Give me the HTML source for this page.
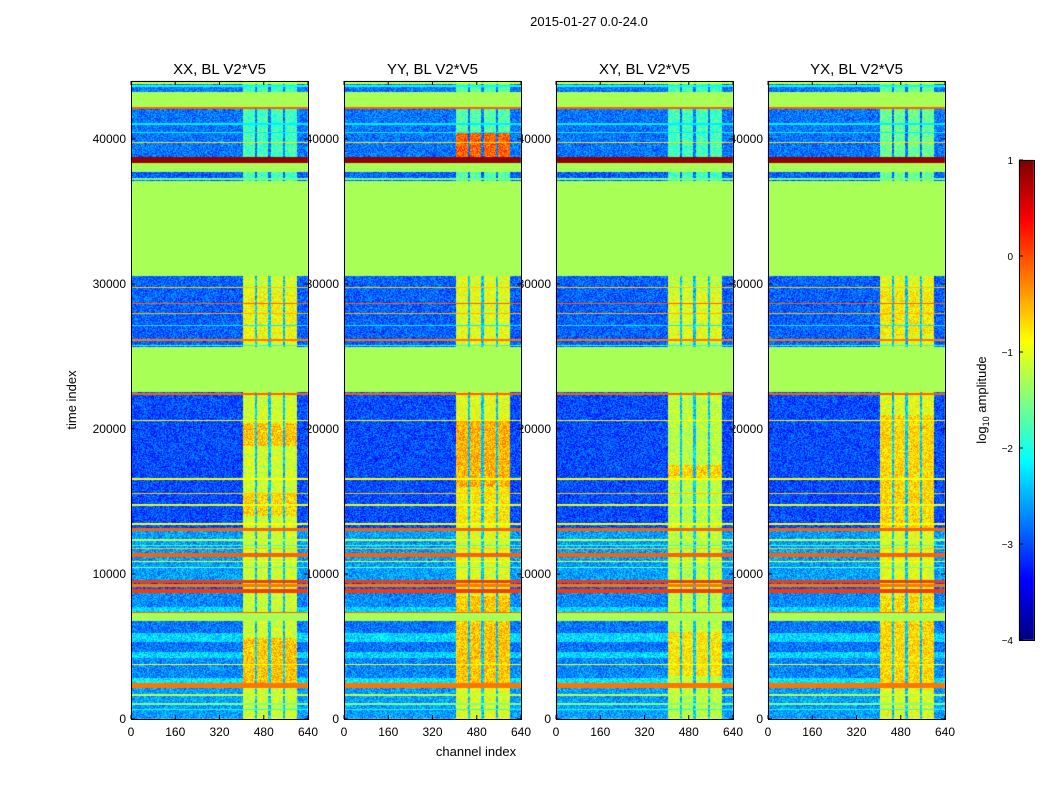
<!DOCTYPE html>
<html><head><meta charset="utf-8"><style>
body{margin:0;background:#fff;width:1050px;height:800px;overflow:hidden;position:relative;font-family:"Liberation Sans",sans-serif}
svg,canvas{position:absolute;left:0;top:0}
</style></head><body>
<svg id="under" width="1050" height="800"></svg>
<canvas id="cv" width="1050" height="800"></canvas>
<svg id="over" width="1050" height="800"></svg>
<script>
const panelTitles=["XX, BL V2*V5","YY, BL V2*V5","XY, BL V2*V5","YX, BL V2*V5"];
const panelLeft=[131,344,556,768];
const yTicks=[0,10000,20000,30000,40000];
const xTicks=[0,160,320,480,640];
const cbTicks=[1,0,-1,-2,-3,-4];
// uniform rows across all channels: [t0,t1,value]
const flagRows=[[42200,43240,-1.3],[37720,38340,-1.3],[30550,37100,-1.3],[22550,25650,-1.3],[6750,7300,-1.3],
[38340,38760,0.9],[42100,42200,-0.1],[22350,22500,-0.1],[12950,13150,-0.1],[11200,11450,-0.1],[8700,9000,0.1],[9100,9300,-0.2],[9400,9600,0.1],
[7300,7400,-0.1],[2150,2480,-0.2],[28600,28700,-0.1],[27900,28000,-0.5],[26100,26200,-0.2],[29700,29800,-0.6],[39700,39800,-0.7],
[20550,20650,-0.9],[16500,16600,-0.9],[15500,15600,-0.6],[14700,14800,-1.0],[13400,13500,-0.9],[3700,3800,-0.9],[1600,1700,-1.2],
[41000,41100,-2.2],[40400,40500,-2.2],[37200,37300,-1.6],[25700,25800,-2.0],[27100,27200,-2.2],[11900,12000,-1.8],[10400,10500,-1.6],
[12300,12400,-1.2],[11700,11800,-0.6],[10800,10900,-0.9],[1000,1100,-1.5],[600,700,-2.0],[43600,43700,-2.1],[43800,43900,-1.0]];
// base background rows: [t0,t1,value]
const baseRows=[[0,2150,-2.6],[2480,2800,-2.2],[2800,4200,-2.7],[4200,4600,-2.3],[4600,5300,-2.8],[5300,5900,-2.3],[5900,6750,-2.8],
[7400,7700,-2.3],[7700,8700,-2.7],[9600,11200,-2.6],[11450,12950,-2.6],[13150,22350,-3.0],[25650,30550,-2.9],[37100,37720,-2.9],[38760,42100,-2.8],[43240,44000,-2.8]];
// RFI channel columns: [ch0,ch1]
const rfiCols=[[405,450],[455,495],[505,550],[556,600]];
const rfiLevel=[-1.1,-1.0,-1.2,-1.0];
const rfiUpperLevel=[-1.8,-1.7,-1.8,-1.6];
// hot time ranges where columns turn orange: per panel [t0,t1,value]
const hotRanges=[[[18800,20400,-0.6],[2500,5600,-0.6],[14000,15500,-0.7],[26000,29500,-0.9]],
[[16000,20600,-0.5],[38760,40400,-0.1],[2500,8500,-0.6],[13500,16000,-0.8]],
[[16500,17500,-0.7],[3000,6000,-0.8],[26000,29500,-1.0]],
[[13000,21000,-0.7],[2500,8500,-0.7],[26500,29500,-0.8]]];
const T_MAX=44000, Y0=719, PH=638, PW=177;
function yOf(t){return Y0 - t/T_MAX*PH;}
function xOf(p,ch){return panelLeft[p]+ch/640*PW;}
function jet(v){let x=Math.max(0,Math.min(1,(v+4)/5));
 const r=Math.max(0,Math.min(1,1.5-Math.abs(4*x-3))),g=Math.max(0,Math.min(1,1.5-Math.abs(4*x-2))),b=Math.max(0,Math.min(1,1.5-Math.abs(4*x-1)));
 return [r*255|0,g*255|0,b*255|0];}
function hash(a,b){let h=(a*374761393+b*668265263)|0;h=(h^(h>>>13))*1274126177|0;return ((h^(h>>>16))>>>0)/4294967295;}
function cellVal(p,t,ch){
 for(const r of flagRows) if(t>=r[0]&&t<r[1]) return {v:r[2],flat:true};
 let base=-2.9;for(const r of baseRows) if(t>=r[0]&&t<r[1]) base=r[2];
 let v=base;
 for(const c of rfiCols) if(ch>=c[0]&&ch<c[1]){v=t>37000?rfiUpperLevel[p]:rfiLevel[p];for(const h of hotRanges[p]) if(t>=h[0]&&t<h[1]) v=h[2];}
 if(ch>=450&&ch<455||ch>=495&&ch<505||ch>=550&&ch<556) if(t<30550&&t>0) v=-2.4;
 return {v,flat:false};
}
const ctx=document.getElementById('cv').getContext('2d');
const img=ctx.createImageData(1050,800);
for(let p=0;p<4;p++){
 for(let py=81;py<719;py++){const t=(Y0-py-0.5)/PH*T_MAX;
  for(let px=panelLeft[p];px<panelLeft[p]+PW;px++){const ch=(px-panelLeft[p]+0.5)/PW*640;
   const c=cellVal(p,t,ch);let v=c.v;if(!c.flat)v+=(hash(px,py)-0.5)*0.8;
   const col=jet(v),i=(py*1050+px)*4;img.data[i]=col[0];img.data[i+1]=col[1];img.data[i+2]=col[2];img.data[i+3]=255;}}
}
for(let py=160;py<640;py++){const v=1-(py-160)/480*5;const col=jet(v);
 for(let px=1019;px<1034;px++){const i=(py*1050+px)*4;img.data[i]=col[0];img.data[i+1]=col[1];img.data[i+2]=col[2];img.data[i+3]=255;}}
ctx.putImageData(img,0,0);
const NS="http://www.w3.org/2000/svg";
function mk(par,tag,attrs,txt){const e=document.createElementNS(NS,tag);for(const k in attrs)e.setAttribute(k,attrs[k]);if(txt!==undefined)e.textContent=txt;par.appendChild(e);return e;}
const U=document.getElementById('under'),O=document.getElementById('over');
for(let p=0;p<4;p++){
 const L=panelLeft[p];
 for(const t of yTicks){const e=mk(U,'text',{x:L-5,y:yOf(t)+4,'text-anchor':'end','font-size':12},String(t));
  
  }
 const fr=mk(O,'rect',{x:L+0.5,y:81.5,width:PW,height:PH,fill:'none',stroke:'#000','stroke-width':1});
 
 
 for(const t of yTicks){mk(O,'line',{x1:L,x2:L+4,y1:yOf(t),y2:yOf(t),stroke:'#000'});mk(O,'line',{x1:L+PW-4,x2:L+PW,y1:yOf(t),y2:yOf(t),stroke:'#000'});}
 for(const c of xTicks){const x=xOf(p,c);mk(O,'line',{x1:x,x2:x,y1:719,y2:715,stroke:'#000'});mk(O,'line',{x1:x,x2:x,y1:81,y2:85,stroke:'#000'});
  const e=mk(O,'text',{x:x,y:736,'text-anchor':'middle','font-size':12},String(c));
  
  }
 const tt=mk(O,'text',{x:L+PW/2,y:74,'text-anchor':'middle','font-size':15},panelTitles[p]);
 
 
}
mk(O,'rect',{x:1019.5,y:160.5,width:15,height:480,fill:'none',stroke:'#000'});
for(const v of cbTicks){const y=160+(1-v)/5*480;mk(O,'line',{x1:1019,x2:1023,y1:y,y2:y,stroke:'#000'});
 const e=mk(O,'text',{x:1013,y:y+4,'text-anchor':'end','font-size':10},v<0?'\u2212'+(-v):String(v));
 
 }
</script>
<svg width="1050" height="800" style="pointer-events:none">
<text x="589" y="26" text-anchor="middle" font-size="13">2015-01-27 0.0-24.0</text>
<text x="476" y="756" text-anchor="middle" font-size="13">channel index</text>
<text x="76" y="400" text-anchor="middle" font-size="13" transform="rotate(-90 76 400)">time index</text>
<text x="986" y="400" text-anchor="middle" font-size="13" transform="rotate(-90 986 400)">log<tspan font-size="9" dy="3">10</tspan><tspan dy="-3"> amplitude</tspan></text>
</svg>
</body></html>
